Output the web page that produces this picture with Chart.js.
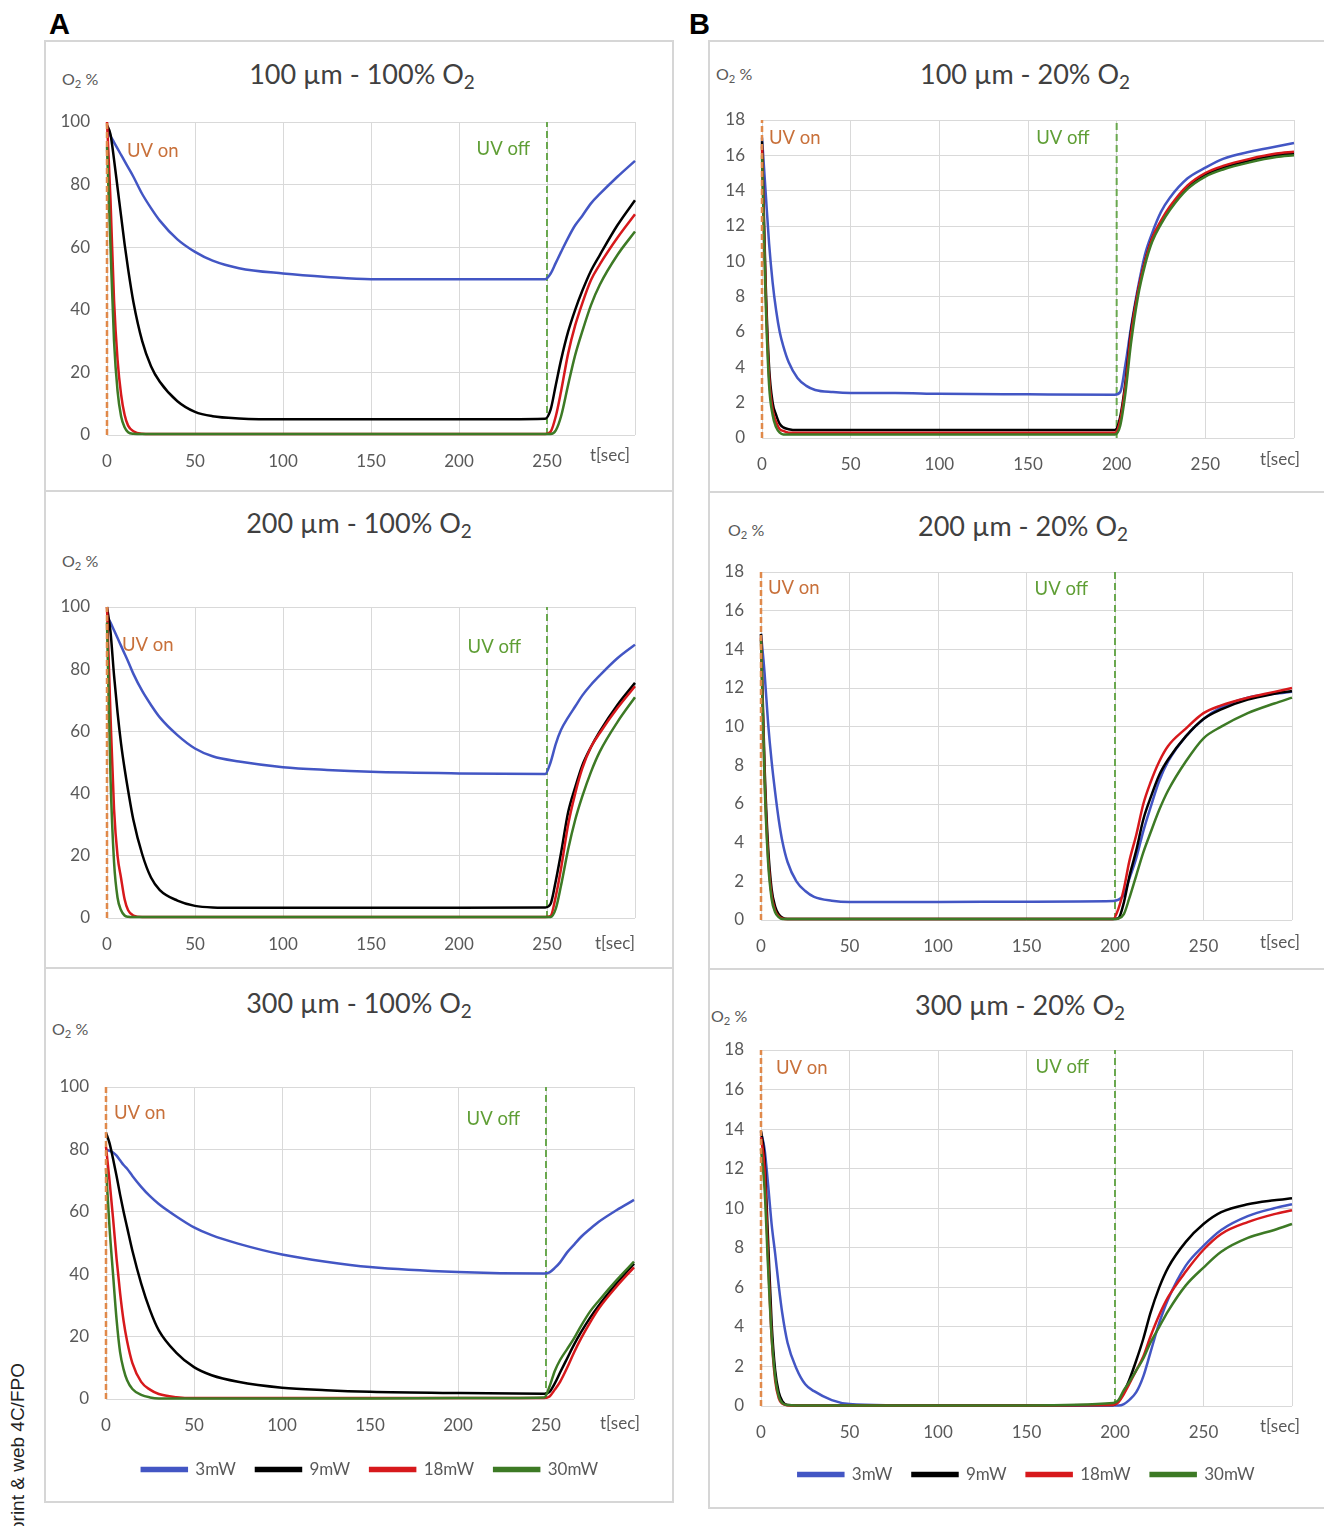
<!DOCTYPE html>
<html>
<head>
<meta charset="utf-8">
<script src="https://cdn.jsdelivr.net/npm/chart.js@4.4.0/dist/chart.umd.min.js"></script>
<style>
  body { margin: 0; background: #fff; width: 1324px; height: 1526px; position: relative; overflow: hidden; font-family: Lato, "Open Sans", sans-serif; }
  .box { position: absolute; border: 2px solid #d6d6d6; box-sizing: border-box; }
  .rule { position: absolute; height: 2px; background: #d6d6d6; }
  canvas { position: absolute; }
  .title { position: absolute; font-size: 27px; color: #404040; white-space: nowrap; transform: translate(-50%, -50%); line-height: 1; }
  .unit { position: absolute; font-size: 16px; color: #595959; white-space: nowrap; transform: translateY(-50%); line-height: 1; }
  .title sub { font-size: 0.7em; vertical-align: -0.25em; }
  .unit sub { font-size: 0.7em; vertical-align: -0.2em; }
  .letter { position: absolute; font-family: "Liberation Sans", Arial, sans-serif; font-weight: bold; font-size: 29px; color: #000; }
  .side { position: absolute; left: 7px; top: 1532px; transform-origin: 0 0; transform: rotate(-90deg); font-family: "Liberation Sans", Arial, sans-serif; font-size: 19px; color: #222; white-space: nowrap; }
</style>
</head>
<body>

<div class="letter" style="left:49px; top:8px;">A</div>
<div class="letter" style="left:689px; top:8px;">B</div>
<div class="side">print &amp; web 4C/FPO</div>

<div class="box" style="left:44px; top:40px; width:630px; height:1463px;"></div>
<div class="rule" style="left:44px; top:490px; width:630px;"></div>
<div class="rule" style="left:44px; top:967px; width:630px;"></div>
<div class="box" style="left:708px; top:40px; width:630px; height:1469px;"></div>
<div class="rule" style="left:708px; top:491px; width:630px;"></div>
<div class="rule" style="left:708px; top:968px; width:630px;"></div>

<div class="title" style="left:362px; top:76px;">100 µm - 100% O<sub>2</sub></div>
<div class="title" style="left:359px; top:525px;">200 µm - 100% O<sub>2</sub></div>
<div class="title" style="left:359px; top:1005px;">300 µm - 100% O<sub>2</sub></div>
<div class="title" style="left:1025px; top:76px;">100 µm - 20% O<sub>2</sub></div>
<div class="title" style="left:1023px; top:528px;">200 µm - 20% O<sub>2</sub></div>
<div class="title" style="left:1020px; top:1007px;">300 µm - 20% O<sub>2</sub></div>

<div class="unit" style="left:62px; top:80px;">O<sub>2</sub> %</div>
<div class="unit" style="left:62px; top:562px;">O<sub>2</sub> %</div>
<div class="unit" style="left:52px; top:1030px;">O<sub>2</sub> %</div>
<div class="unit" style="left:716px; top:75px;">O<sub>2</sub> %</div>
<div class="unit" style="left:728px; top:531px;">O<sub>2</sub> %</div>
<div class="unit" style="left:711px; top:1017px;">O<sub>2</sub> %</div>

<canvas id="a1"></canvas>
<canvas id="a2"></canvas>
<canvas id="a3"></canvas>
<canvas id="b1"></canvas>
<canvas id="b2"></canvas>
<canvas id="b3"></canvas>

<script>
// legend names (UV power)
const seriesNames = ["3mW", "9mW", "18mW", "30mW"];

// time points [sec], column A (UV off at 250 s)
const tA = [0, 2, 4, 6, 8, 10, 12, 15, 20, 25, 30, 40, 50, 60, 75, 100, 125, 150, 200, 249, 252, 255, 258, 262, 266, 270, 275, 280, 290, 300];

// 100 um - 100% O2
const a1_3mW  = [97, 95.5, 93.5, 91.5, 89.5, 87.5, 85.5, 82.5, 77, 72.5, 68.5, 62.5, 58.5, 55.7, 53.3, 51.6, 50.5, 49.8, 49.8, 49.8, 51.5, 55, 58.5, 63, 67, 70, 74, 77, 82.5, 87.6];
const a1_9mW  = [99, 96, 88, 79, 70, 61, 53, 42.5, 30, 22, 17, 10.8, 7.4, 6, 5.3, 5, 5, 5, 5, 5.2, 8, 16, 24, 33, 40, 46, 52.5, 57.5, 67, 75];
const a1_18mW = [100, 75, 43, 24, 13, 6.5, 3, 1.2, 0.4, 0.3, 0.3, 0.3, 0.3, 0.3, 0.3, 0.3, 0.3, 0.3, 0.3, 0.3, 1, 6, 14, 26, 35, 42, 49.5, 54.5, 63, 70.5];
const a1_30mW = [92, 60, 30, 14, 6, 2.5, 0.9, 0.4, 0.3, 0.3, 0.3, 0.3, 0.3, 0.3, 0.3, 0.3, 0.3, 0.3, 0.3, 0.3, 0.3, 1.5, 6, 16, 25.5, 33, 41.5, 48, 57.5, 65];

// 200 um - 100% O2
const a2_3mW  = [97, 95, 92.5, 90, 87.5, 85, 82.5, 78.5, 73, 68.5, 64.5, 58.8, 54.5, 52, 50.3, 48.5, 47.6, 47, 46.5, 46.3, 50, 56, 60.5, 64.5, 68, 71.5, 75, 78, 83.5, 87.9];
const a2_9mW  = [100, 92, 78, 66, 56, 48, 41, 31.5, 20.5, 13, 9, 5.6, 3.9, 3.4, 3.3, 3.3, 3.3, 3.3, 3.3, 3.4, 4.5, 12, 21, 34, 42, 49, 55, 60, 68.5, 75.6];
const a2_18mW = [100, 65, 35, 20, 12.8, 6, 2.5, 0.8, 0.3, 0.3, 0.3, 0.3, 0.3, 0.3, 0.3, 0.3, 0.3, 0.3, 0.3, 0.3, 0.6, 7, 16, 30, 40, 48, 55, 59.5, 67.5, 74.5];
const a2_30mW = [95, 45, 18, 6.5, 2.5, 0.8, 0.4, 0.3, 0.3, 0.3, 0.3, 0.3, 0.3, 0.3, 0.3, 0.3, 0.3, 0.3, 0.3, 0.3, 0.3, 3, 10.5, 22, 31.5, 39, 47, 53.5, 63, 71];

// 300 um - 100% O2
const a3_3mW  = [80, 79.5, 79, 78, 76.5, 75, 73.8, 71.5, 68, 65, 62.5, 58.5, 55, 52.5, 49.8, 46.3, 44, 42.3, 40.7, 40.2, 40.6, 42, 43.8, 47, 49.5, 52, 54.5, 56.8, 60.5, 63.8];
const a3_9mW  = [85.4, 82, 77, 71.5, 65.5, 60, 55, 47.5, 37, 28.5, 22, 14.8, 10.2, 7.6, 5.5, 3.6, 2.8, 2.3, 1.9, 1.7, 2.3, 5, 8.5, 13, 17.5, 21.5, 26, 30, 37, 43.4];
const a3_18mW = [80.8, 70, 58, 45, 34, 25, 18.5, 11.5, 5.5, 3, 1.6, 0.6, 0.3, 0.3, 0.3, 0.3, 0.3, 0.3, 0.3, 0.3, 0.8, 3, 5.5, 10, 15, 19.5, 24.5, 29, 36, 42.2];
const a3_30mW = [74, 55, 40, 25.5, 15, 9.5, 6, 3.2, 1.3, 0.5, 0.2, 0.2, 0.2, 0.2, 0.2, 0.2, 0.2, 0.2, 0.3, 0.5, 4, 9, 12.5, 16, 19.5, 23.5, 28, 31.5, 38, 44];

// time points [sec], column B (UV off at 200 s)
const tB = [0, 2, 4, 6, 8, 10, 12, 15, 20, 25, 30, 40, 50, 75, 100, 150, 199, 202, 205, 208, 212, 216, 220, 225, 230, 240, 250, 260, 275, 290, 300];

// 100 um - 20% O2
const b1_3mW  = [17, 14, 11, 8.8, 7.2, 6, 5.2, 4.3, 3.4, 2.95, 2.72, 2.6, 2.55, 2.55, 2.5, 2.47, 2.45, 2.6, 4.2, 6.2, 8.5, 10.4, 11.6, 12.8, 13.6, 14.7, 15.3, 15.8, 16.2, 16.5, 16.7];
const b1_9mW  = [16.8, 9, 4, 2, 1.3, 0.8, 0.6, 0.5, 0.45, 0.45, 0.45, 0.45, 0.45, 0.45, 0.45, 0.45, 0.45, 1.2, 3.2, 6, 8.3, 10, 11.3, 12.2, 13, 14.2, 14.9, 15.3, 15.7, 16, 16.1];
const b1_18mW = [16.5, 8.5, 3.5, 1.6, 0.9, 0.5, 0.4, 0.3, 0.3, 0.3, 0.3, 0.3, 0.3, 0.3, 0.3, 0.3, 0.3, 1, 3, 5.8, 8.3, 10, 11.3, 12.3, 13.1, 14.3, 15, 15.4, 15.8, 16.1, 16.2];
const b1_30mW = [16, 8, 3, 1.3, 0.6, 0.3, 0.2, 0.2, 0.2, 0.2, 0.2, 0.2, 0.2, 0.2, 0.2, 0.2, 0.2, 0.7, 2.6, 5.3, 8, 9.8, 11.1, 12.1, 12.9, 14.1, 14.8, 15.2, 15.6, 15.9, 16];

// 200 um - 20% O2
const b2_3mW  = [14.8, 12.8, 10.2, 8.2, 6.6, 5.2, 4.1, 3, 2, 1.5, 1.2, 1, 0.93, 0.93, 0.93, 0.95, 0.98, 1.05, 1.3, 2.1, 3.2, 4.6, 5.8, 7.2, 8.2, 9.5, 10.4, 11, 11.5, 11.7, 11.8];
const b2_9mW  = [14.8, 8, 3.8, 1.6, 0.7, 0.3, 0.12, 0.05, 0.05, 0.05, 0.05, 0.05, 0.05, 0.05, 0.05, 0.05, 0.05, 0.1, 0.9, 2.2, 3.6, 5.2, 6.3, 7.5, 8.3, 9.5, 10.4, 10.9, 11.4, 11.7, 11.85];
const b2_18mW = [14.6, 7.5, 3.3, 1.3, 0.5, 0.2, 0.08, 0.05, 0.05, 0.05, 0.05, 0.05, 0.05, 0.05, 0.05, 0.05, 0.05, 0.6, 1.6, 3, 4.4, 6, 7.1, 8.2, 9, 9.9, 10.7, 11.1, 11.5, 11.8, 12];
const b2_30mW = [14.5, 7.2, 3, 1.1, 0.4, 0.15, 0.05, 0.05, 0.05, 0.05, 0.05, 0.05, 0.05, 0.05, 0.05, 0.05, 0.05, 0.08, 0.3, 1.1, 2.3, 3.5, 4.5, 5.7, 6.7, 8.2, 9.4, 10, 10.7, 11.2, 11.5];

// 300 um - 20% O2
const b3_3mW  = [13.85, 13, 11.2, 9.2, 7.7, 6.1, 4.7, 3.2, 1.9, 1.1, 0.75, 0.3, 0.1, 0.04, 0.03, 0.03, 0.03, 0.03, 0.1, 0.3, 0.7, 1.5, 2.7, 4.2, 5.4, 7.1, 8.1, 8.9, 9.6, 10, 10.2];
const b3_9mW  = [13.9, 12.5, 8.4, 4.2, 1.8, 0.7, 0.25, 0.05, 0.03, 0.03, 0.03, 0.03, 0.03, 0.03, 0.03, 0.03, 0.05, 0.25, 0.7, 1.3, 2.3, 3.4, 4.7, 6, 7, 8.3, 9.2, 9.8, 10.2, 10.4, 10.5];
const b3_18mW = [13.6, 12, 7.5, 3.5, 1.3, 0.4, 0.12, 0.04, 0.03, 0.03, 0.03, 0.03, 0.03, 0.03, 0.03, 0.03, 0.05, 0.2, 0.6, 1.1, 1.8, 2.5, 3.5, 4.6, 5.5, 6.8, 7.9, 8.7, 9.3, 9.7, 9.9];
const b3_30mW = [13, 11, 7, 3.5, 1.5, 0.5, 0.15, 0.05, 0.03, 0.03, 0.03, 0.03, 0.03, 0.03, 0.03, 0.03, 0.15, 0.3, 0.8, 1.2, 1.8, 2.4, 3.2, 4, 4.8, 6.1, 7, 7.8, 8.5, 8.9, 9.2];

const lineColors = ["#4356c4", "#000000", "#d7191c", "#3d7a25"];
const uvOnColor = "#e0894a";
const uvOnText = "#c8703a";
const uvOffColor = "#6aa84f";
const uvOffText = "#5f9e35";
const tickColor = "#595959";
const gridColor = "#d9d9d9";

// canvas placement and chart-area padding for each panel
const panels = [
  { id: "a1", left: 44, top: 92, w: 636, h: 398, pad: { left: 13, right: 45, top: 30, bottom: 15 }, xH: 40,
    time: tA, series: [a1_3mW, a1_9mW, a1_18mW, a1_30mW], yMax: 100, yStep: 20, uvOff: 250,
    onDx: 20, onDy: 29, offDx: -17, offDy: 27, tDx: -25, tDy: 21, legend: false },
  { id: "a2", left: 44, top: 577, w: 636, h: 393, pad: { left: 13, right: 45, top: 30, bottom: 12 }, xH: 40,
    time: tA, series: [a2_3mW, a2_9mW, a2_18mW, a2_30mW], yMax: 100, yStep: 20, uvOff: 250,
    onDx: 15, onDy: 38, offDx: -26, offDy: 40, tDx: -20, tDy: 26, legend: false },
  { id: "a3", left: 44, top: 1057, w: 636, h: 445, pad: { left: 12, right: 46, top: 30, bottom: 14 }, xH: 42,
    time: tA, series: [a3_3mW, a3_9mW, a3_18mW, a3_30mW], yMax: 100, yStep: 20, uvOff: 250,
    onDx: 8, onDy: 26, offDx: -26, offDy: 32, tDx: -14, tDy: 25, legend: true },
  { id: "b1", left: 708, top: 90, w: 616, h: 400, pad: { left: 4, right: 30, top: 30, bottom: 12 }, xH: 40,
    time: tB, series: [b1_3mW, b1_9mW, b1_18mW, b1_30mW], yMax: 18, yStep: 2, uvOff: 200,
    onDx: 7, onDy: 18, offDx: -27, offDy: 18, tDx: -14, tDy: 22, legend: false },
  { id: "b2", left: 708, top: 542, w: 616, h: 428, pad: { left: 3, right: 32, top: 30, bottom: 10 }, xH: 40,
    time: tB, series: [b2_3mW, b2_9mW, b2_18mW, b2_30mW], yMax: 18, yStep: 2, uvOff: 200,
    onDx: 7, onDy: 16, offDx: -27, offDy: 17, tDx: -12, tDy: 23, legend: false },
  { id: "b3", left: 708, top: 1020, w: 616, h: 488, pad: { left: 3, right: 32, top: 30, bottom: 15 }, xH: 40,
    time: tB, series: [b3_3mW, b3_9mW, b3_18mW, b3_30mW], yMax: 18, yStep: 2, uvOff: 200,
    onDx: 15, onDy: 18, offDx: -26, offDy: 17, tDx: -12, tDy: 21, legend: true },
];

// "UV on" / "UV off" marker text and the t[sec] axis note
const uvText = {
  id: "uvText",
  beforeDatasetsDraw(chart, args, o) {
    const { ctx, chartArea, scales } = chart;
    const x = scales.x;
    ctx.save();
    ctx.font = "18.5px Lato";
    ctx.textBaseline = "middle";
    ctx.textAlign = "left";
    ctx.fillStyle = uvOnText;
    ctx.fillText("UV on", x.getPixelForValue(0) + o.onDx, chartArea.top + o.onDy);
    ctx.textAlign = "right";
    ctx.fillStyle = uvOffText;
    ctx.fillText("UV off", x.getPixelForValue(o.uvOff) + o.offDx, chartArea.top + o.offDy);
    ctx.font = "17px Lato";
    ctx.textAlign = "center";
    ctx.fillStyle = tickColor;
    ctx.fillText("t[sec]", chartArea.right + o.tDx, chartArea.bottom + o.tDy);
    ctx.restore();
  },
};

const makeChart = (p) => {
  const canvas = document.getElementById(p.id);
  canvas.width = p.w;
  canvas.height = p.h;
  canvas.style.left = p.left + "px";
  canvas.style.top = p.top + "px";

  const datasets = p.series.map((vals, i) => ({
    label: seriesNames[i],
    data: p.time.map((t, k) => ({ x: t, y: vals[k] })),
    borderColor: lineColors[i],
    backgroundColor: lineColors[i],
    borderWidth: 2.5,
    pointRadius: 0,
    cubicInterpolationMode: "monotone",
    clip: 3,
    order: 3 - i,
  }));
  // UV on marker sits on top, as in the original figure
  datasets.push({
    label: "UV on",
    data: [{ x: 0, y: 0 }, { x: 0, y: p.yMax }],
    borderColor: uvOnColor, borderWidth: 2.5, borderDash: [6, 3], pointRadius: 0, clip: 4, order: -1,
  });
  datasets.push({
    label: "UV off",
    data: [{ x: p.uvOff, y: 0 }, { x: p.uvOff, y: p.yMax }],
    borderColor: uvOffColor, borderWidth: 2, borderDash: [7, 4], pointRadius: 0, clip: 4, order: 10,
  });

  return new Chart(canvas, {
    type: "line",
    data: { datasets },
    plugins: [uvText],
    options: {
      responsive: false,
      animation: false,
      devicePixelRatio: 1,
      layout: { padding: p.pad },
      plugins: {
        title: { display: false },
        tooltip: { enabled: false },
        uvText: { onDx: p.onDx, onDy: p.onDy, offDx: p.offDx, offDy: p.offDy, tDx: p.tDx, tDy: p.tDy, uvOff: p.uvOff },
        legend: {
          display: p.legend,
          position: "bottom",
          fullSize: false,
          labels: {
            boxWidth: 45,
            boxHeight: 3,
            padding: 20,
            color: tickColor,
            font: { family: "Lato", size: 17 },
            filter: (item) => item.datasetIndex < 4,
            sort: (a, b) => a.datasetIndex - b.datasetIndex,
          },
        },
      },
      scales: {
        x: {
          type: "linear",
          min: 0,
          max: 300,
          afterFit: (s) => { s.height = p.xH; },
          border: { display: false },
          grid: { color: gridColor, lineWidth: 1, drawTicks: false },
          ticks: {
            stepSize: 50,
            autoSkip: false,
            maxRotation: 0,
            padding: 16,
            color: tickColor,
            font: { family: "Lato", size: 17 },
            callback: (v) => (v === 300 ? "" : v),
          },
        },
        y: {
          min: 0,
          max: p.yMax,
          afterFit: (s) => { s.width = 50; },
          border: { display: false },
          grid: { color: gridColor, lineWidth: 1, drawTicks: false },
          ticks: {
            stepSize: p.yStep,
            padding: 17,
            color: tickColor,
            font: { family: "Lato", size: 17 },
          },
        },
      },
    },
  });
};

window.addEventListener("load", () => {
  panels.forEach(makeChart);
});
</script>
</body>
</html>
